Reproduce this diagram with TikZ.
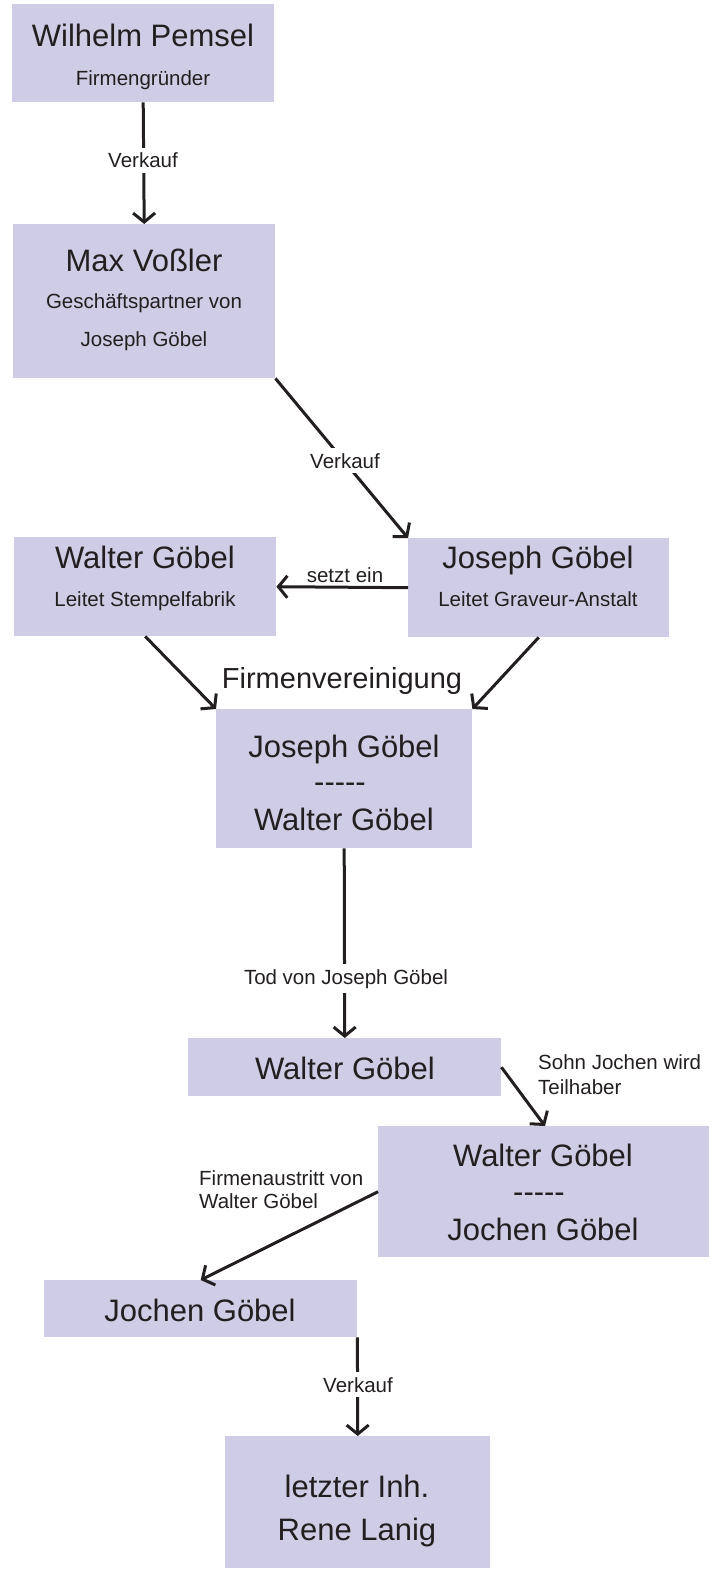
\documentclass[tikz,border=0pt]{standalone}
\usepackage{fontspec}
\setmainfont{Liberation Sans}
\usetikzlibrary{arrows.meta}
\definecolor{boxfill}{RGB}{207,204,229}
\definecolor{ink}{RGB}{35,31,32}
\newcommand{\fivedash}{-{}-{}-{}-{}-}
\tikzset{
  box/.style={draw=none,fill=boxfill,rectangle,inner sep=0pt,anchor=north west},
  ttl/.style={anchor=base,inner sep=0pt,text=ink,font=\fontsize{31}{36}\selectfont},
  sub/.style={anchor=base,inner sep=0pt,text=ink,font=\fontsize{20.5}{24}\selectfont},
  lbl/.style={anchor=base,inner sep=0pt,text=ink,font=\fontsize{20.5}{24}\selectfont},
  lblw/.style={lbl,fill=white,inner xsep=2pt,inner ysep=5pt},
  conn/.style={draw=ink,line width=3pt,-{Straight Barb[length=9pt,width=22pt,line width=3pt]}},
}
\begin{document}
\begin{tikzpicture}[x=1pt,y=-1pt]
\useasboundingbox (0,0) rectangle (724,1570);
% boxes
\node[box,minimum width=262pt,minimum height=98pt] (b1) at (12,4) {};
\node[box,minimum width=262pt,minimum height=154pt] (b2) at (13,224) {};
\node[box,minimum width=262pt,minimum height=99pt] (b3) at (14,537) {};
\node[box,minimum width=261pt,minimum height=99pt] (b4) at (408,538) {};
\node[box,minimum width=256pt,minimum height=139pt] (b5) at (216,709) {};
\node[box,minimum width=313pt,minimum height=58pt] (b6) at (188,1038) {};
\node[box,minimum width=331pt,minimum height=131pt] (b7) at (378,1126) {};
\node[box,minimum width=313pt,minimum height=57pt] (b8) at (44,1280) {};
\node[box,minimum width=265pt,minimum height=132pt] (b9) at (225,1436) {};
% texts
\node[ttl] (t1a) at (143,47) {Wilhelm Pemsel};
\node[sub] (t1b) at (143,86) {Firmengründer};
\node[ttl] (t2a) at (144,271) {Max Voßler};
\node[sub] (t2b) at (144,308) {Geschäftspartner von};
\node[sub] (t2c) at (144,346) {Joseph Göbel};
\node[ttl] (t3a) at (145,568) {Walter Göbel};
\node[sub] (t3b) at (145,606) {Leitet Stempelfabrik};
\node[ttl] (t4a) at (538,568) {Joseph Göbel};
\node[sub] (t4b) at (538,606) {Leitet Graveur-Anstalt};
\node[ttl] (t5a) at (344,757) {Joseph Göbel};
\node[ttl] (t5b) at (340,792) {\fivedash};
\node[ttl] (t5c) at (344,830) {Walter Göbel};
\node[ttl] (t6a) at (345,1079) {Walter Göbel};
\node[ttl] (t7a) at (543,1166) {Walter Göbel};
\node[ttl] (t7b) at (539,1202) {\fivedash};
\node[ttl] (t7c) at (543,1240) {Jochen Göbel};
\node[ttl] (t8a) at (200,1321) {Jochen Göbel};
\node[ttl] (t9a) at (357,1497) {letzter Inh.};
\node[ttl] (t9b) at (357,1540) {Rene Lanig};
% connectors
\draw[conn] (b1.south) -- (b2.north);
\draw[conn] (b2.south east) -- (b4.north west);
\draw[conn] (b4.west) -- (b3.east);
\draw[conn] (b3.south) -- (b5.north west);
\draw[conn] (b4.south) -- (b5.north east);
\draw[conn] (b5.south) -- (b6.north);
\draw[conn] (b6.east) -- ([xshift=167pt]b7.north west);
\draw[conn] (b7.west) -- (b8.north);
\draw[conn] (b8.south east) -- (b9.north);
% labels
\node[lblw] (l1) at (143,168) {Verkauf};
\node[lblw] (l2) at (345,468) {Verkauf};
\node[lbl] (l3) at (345,582) {setzt ein};
\node[ttl,font=\fontsize{29}{34}\selectfont] (l4) at (342,688) {Firmenvereinigung};
\node[lblw] (l5) at (346,984) {Tod von Joseph Göbel};
\node[lbl,anchor=base west] (l6a) at (538,1069) {Sohn Jochen wird};
\node[lbl,anchor=base west] (l6b) at (538,1094) {Teilhaber};
\node[lbl,anchor=base west] (l7a) at (199,1185) {Firmenaustritt von};
\node[lbl,anchor=base west] (l7b) at (199,1208) {Walter Göbel};
\node[lblw] (l8) at (358,1392) {Verkauf};
\end{tikzpicture}
\end{document}
